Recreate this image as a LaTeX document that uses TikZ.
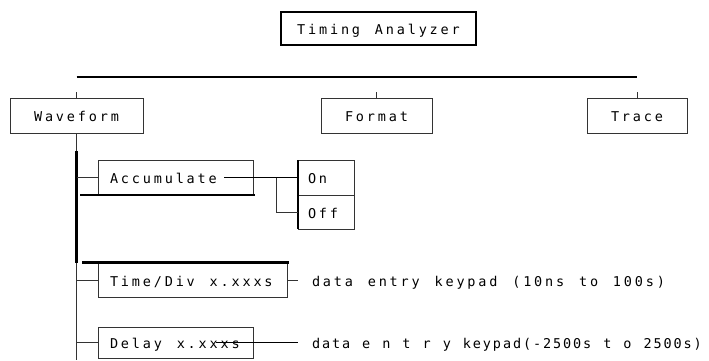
\documentclass[tikz,border=0pt]{standalone}
\usepackage{fontspec}
\setmonofont[LetterSpace=21, WordSpace=1.35]{DejaVu Sans Mono}
\newfontfamily\tightmono[LetterSpace=14, WordSpace=1.2]{DejaVu Sans Mono}
\usetikzlibrary{positioning}

\begin{document}
\begin{tikzpicture}[x=1pt, y=-1pt,
  wire/.style={draw=black!80, line width=0.7pt},
  bar/.style={draw=black, line width=2.2pt},
  menu/.style={draw=black!80, line width=0.7pt, inner xsep=12pt, inner ysep=0pt,
               outer sep=0pt, minimum height=35pt, text height=12pt, text depth=0pt,
               font=\fontsize{13.5}{16}\ttfamily},
  lmenu/.style={menu, execute at begin node={\hbox to #1\bgroup},
                execute at end node={\hfil\egroup}},
  note/.style={inner xsep=14pt, inner ysep=0pt, outer sep=0pt, anchor=west,
               text height=12pt, text depth=0pt, font=\fontsize{13.5}{16}\ttfamily},
]
  \useasboundingbox (0,0) rectangle (709,360);

  % Top level menu
  \node[menu, draw=black, line width=2.6pt, minimum width=195pt, minimum height=33pt]
    (timing) at (378.5,28.5) {Timing Analyzer};
  \node[menu, minimum width=133pt] (waveform) at (76.5,115.5) {Waveform};
  \node[menu, minimum width=111pt] (format) at (376.5,115.5) {Format};
  \node[menu, minimum width=100pt] (trace) at (637,115.5) {Trace};

  \draw[bar] ([yshift=21pt]waveform.north) -- ([yshift=21pt]trace.north);
  \foreach \m in {waveform, format, trace}
    \draw[wire] (\m.north) -- ++(0,-6);

  % Waveform submenu
  \node[lmenu=131pt, anchor=west] (accumulate) at (98,177.5) {Accumulate};
  \node[lmenu=36pt, inner xsep=10pt, right=45pt of accumulate] (on) {On};
  \node[lmenu=36pt, inner xsep=10pt, minimum height=34pt, below=0pt of on] (off) {Off};
  \node[lmenu=165pt, anchor=west] (timediv) at (98,280) {Time/Div x.xxxs};
  \node[lmenu=131pt, anchor=west, minimum height=31pt] (delay) at (98,342.5) {Delay x.xxxs};
  \node[note] (tdnote) at (298,280) {data entry keypad (10ns to 100s)};
  \node[note, font=\fontsize{13.5}{16}\tightmono]
    (dlynote) at (298,342.5) {data e n t r y keypad(-2500s t o 2500s)};

  % Spine under Waveform
  \coordinate (spineEnd) at (76.5,360);
  \draw[wire] (waveform.south) -- (spineEnd);
  \draw[bar] ([yshift=-18pt]waveform.south) -- (waveform.south |- timediv.north);
  \foreach \m in {accumulate, timediv, delay}
    \draw[wire] (waveform.south |- \m.west) -- (\m.west);
  \draw[bar] ([xshift=-18pt]accumulate.south west) -- ([xshift=2pt]accumulate.south east);
  \draw[bar] ([xshift=-16pt]timediv.north west) -- ([xshift=2pt]timediv.north east);

  % Accumulate choices
  \coordinate (accEnd) at ([xshift=48.5pt]accumulate.center);
  \draw[bar, line width=1.8pt] (accEnd |- on.west) -- (on.west);
  \draw[bar] (on.north west) -- (off.south west);
  \coordinate (accFork) at ([xshift=-22pt]on.west);
  \draw[wire] (accFork) |- (off.west);

  % Entry fields
  \draw[wire] (timediv.east) -- (tdnote.west);
  \coordinate (dlyMark) at ([xshift=40.5pt]delay.center);
  \draw[bar, line width=1.8pt] (dlyMark) -- (dlynote.west);
\end{tikzpicture}
\end{document}
